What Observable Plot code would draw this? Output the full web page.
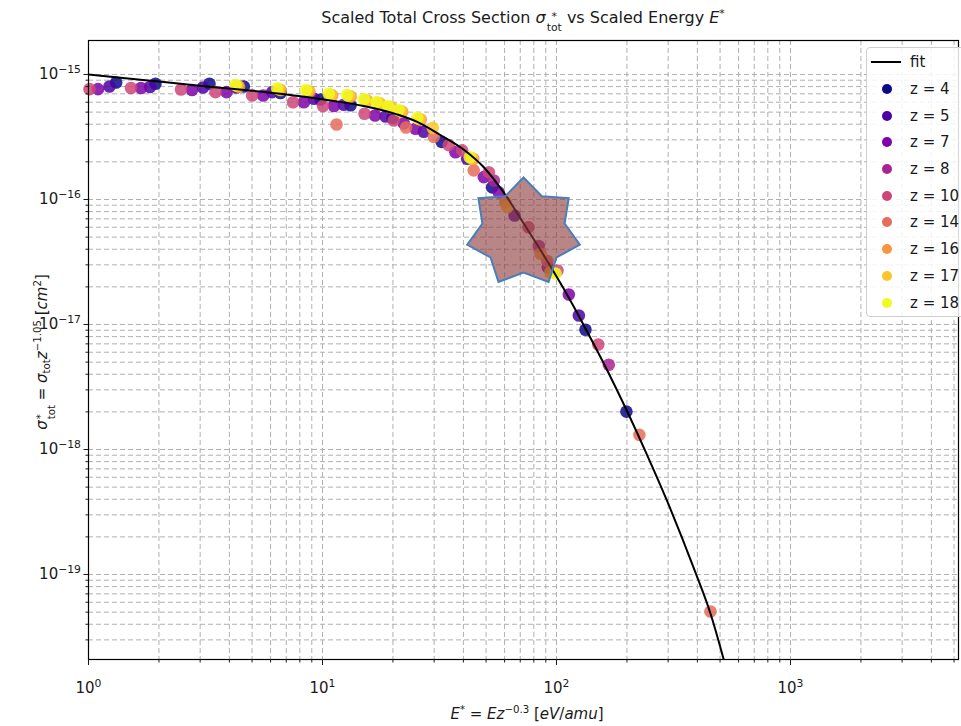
<!DOCTYPE html>
<html>
<head>
<meta charset="utf-8">
<script src="https://cdn.jsdelivr.net/npm/d3@7"></script>
<script src="https://cdn.jsdelivr.net/npm/@observablehq/plot@0.6"></script>
<style>
  html, body { margin: 0; padding: 0; background: #fff; }
  body { font-family: "DejaVu Sans", sans-serif; color: #1a1a1a; }
  #wrap { position: relative; width: 961px; height: 726px; overflow: hidden; background: #fff; }
  #title { position: absolute; top: 0; left: 88px; width: 870px; height: 36px; line-height: 36px; text-align: center; font-size: 16px; white-space: nowrap; }
  #chart { position: absolute; top: 34px; left: 0; }
  .ss { display: inline-flex; flex-direction: column; font-size: 0.68em; line-height: 1.1; vertical-align: 0.32em; margin-left: 1px; }
  sup { font-size: 0.68em; vertical-align: 0.55em; line-height: 0; }
  sub { font-size: 0.68em; vertical-align: -0.3em; line-height: 0; }
  #ylabel { position: absolute; left: 44px; top: 352px; transform: translate(-50%, -50%) rotate(-90deg); white-space: nowrap; font-size: 15px; line-height: 22px; }
  #xlabel { position: absolute; left: 527px; top: 714px; transform: translate(-50%, -50%); white-space: nowrap; font-size: 15px; }
  #legend { position: absolute; left: 866px; top: 47px; width: 100px; height: 270px; box-sizing: border-box; border: 1px solid #cfcfcf; border-radius: 4px; background: rgba(255,255,255,0.85); padding-top: 1px; }
  .row { position: relative; height: 26.7px; font-size: 15px; }
  .row .txt { position: absolute; left: 43px; top: 50%; transform: translateY(-50%); white-space: nowrap; }
  .row .mk { position: absolute; left: 15px; top: 50%; width: 10px; height: 10px; margin-top: -5px; border-radius: 50%; }
  .row .ln { position: absolute; left: 4px; top: 50%; width: 30px; height: 2px; margin-top: -1px; background: #000; }
</style>
</head>
<body>
<div id="wrap">
  <div id="title">Scaled Total Cross Section <i>σ</i><span class="ss"><span>*</span><span>tot</span></span> vs Scaled Energy <i>E</i><sup>*</sup></div>
  <div id="chart"></div>
  <div id="ylabel"><i>σ</i><span class="ss"><span>*</span><span>tot</span></span> = <i>σ</i><sub>tot</sub><i>z</i><sup>−1.05</sup>&nbsp;[<i>cm</i><sup>2</sup>]</div>
  <div id="xlabel"><i>E</i><sup>*</sup> = <i>Ez</i><sup>−0.3</sup>&nbsp;[<i>eV</i>/<i>amu</i>]</div>
  <div id="legend"></div>
</div>
<script>
// ---------- data ----------
const zLabels = ["z = 4", "z = 5", "z = 7", "z = 8", "z = 10", "z = 14", "z = 16", "z = 17", "z = 18"];

const z4E = [1.313, 1.933, 3.289, 4.61, 6.61, 9.81, 13.18, 19.9, 32.3, 53.1, 133, 199];
const z4S = [8.63e-16, 8.42e-16, 8.42e-16, 8.02e-16, 7.11e-16, 6.31e-16, 5.68e-16, 4.49e-16, 2.89e-16, 1.25e-16, 9.07e-18, 2.01e-18];

const z5E = [1.229, 1.832, 3.085, 4.29, 6.095, 9.20, 12.33, 18.6, 27.1, 41.5, 66.2, 124.6];
const z5S = [8.02e-16, 7.94e-16, 7.87e-16, 7.87e-16, 7.22e-16, 6.39e-16, 5.72e-16, 4.61e-16, 3.48e-16, 2.12e-16, 7.45e-17, 1.18e-17];

const z7E = [1.098, 1.677, 2.769, 3.889, 5.58, 8.33, 11.19, 16.77, 22.26, 24.97, 37.0, 48.9, 56.7, 91.8, 112.9];
const z7S = [7.63e-16, 7.80e-16, 7.52e-16, 7.22e-16, 6.79e-16, 6.0e-16, 5.6e-16, 4.70e-16, 4.06e-16, 3.68e-16, 2.39e-16, 1.51e-16, 1.14e-16, 2.87e-17, 1.74e-17];

const z8E = [54.0, 84.0, 167.3];
const z8S = [1.42e-16, 4.25e-17, 4.76e-18];

const z10E = [1.01, 1.519, 2.485, 3.489, 5.006, 7.48, 10.05, 15.12, 20.17, 34.65, 39.5, 51.4, 75.9, 101, 150.8];
const z10S = [7.63e-16, 7.80e-16, 7.59e-16, 7.22e-16, 6.79e-16, 6.0e-16, 5.6e-16, 4.85e-16, 4.29e-16, 2.72e-16, 2.47e-16, 1.65e-16, 6.0e-17, 2.70e-17, 6.92e-18];

const z14E = [11.48, 22.75, 29.9, 44.3, 91.3, 226, 455];
const z14S = [3.98e-16, 3.77e-16, 3.17e-16, 1.71e-16, 3.22e-17, 1.31e-18, 5.06e-20];

const z16E = [4.40, 6.63, 8.80, 11.0, 13.2, 15.5, 17.6, 19.7, 21.9, 26.3, 44.1, 60.5, 85.4];
const z16S = [7.99e-16, 7.50e-16, 7.29e-16, 6.80e-16, 6.65e-16, 6.16e-16, 5.85e-16, 5.43e-16, 5.04e-16, 4.36e-16, 2.11e-16, 9.51e-17, 3.68e-17];

const z17E = [4.33, 6.53, 8.67, 10.85, 13.0, 15.3, 17.4, 19.4, 21.6, 25.9, 29.6, 43.5, 61.6, 94.3];
const z17S = [8.08e-16, 7.58e-16, 7.37e-16, 6.87e-16, 6.72e-16, 6.22e-16, 5.91e-16, 5.49e-16, 5.10e-16, 4.40e-16, 3.75e-16, 2.14e-16, 8.68e-17, 2.62e-17];

const z18E = [4.248, 6.405, 8.50, 10.64, 12.74, 15.02, 17.02, 19.05, 21.13, 25.40, 42.6, 99.0];
const z18S = [8.24e-16, 7.73e-16, 7.52e-16, 7.01e-16, 6.86e-16, 6.35e-16, 6.03e-16, 5.60e-16, 5.20e-16, 4.49e-16, 2.18e-16, 2.56e-17];

const fitE = [1, 1.84, 2.91, 6.61, 10.8, 15, 20.8, 25.4, 31.9, 40.2, 48.9, 55.8, 61.5, 72.5, 88.3, 107.4, 133, 164.7, 199, 240, 300, 385, 455, 519, 560];
const fitS = [1.0e-15, 8.91e-16, 8.17e-16, 7.01e-16, 6.19e-16, 5.6e-16, 4.8e-16, 4.18e-16, 3.28e-16, 2.5e-16, 1.81e-16, 1.34e-16, 1.04e-16, 6.4e-17, 3.57e-17, 1.93e-17, 9.3e-18, 4.31e-18, 2.08e-18, 9.66e-19, 3.70e-19, 1.14e-19, 4.88e-20, 2.07e-20, 1.2e-20];

// star annotation placed in data coordinates
const starE = [72.3];
const starS = [5.45e-17];

// axis ticks
const xMajor = [1, 10, 100, 1000];
const xTickExp = ["0", "1", "2", "3"];
const yMajor = [1e-19, 1e-18, 1e-17, 1e-16, 1e-15];
const yTickExp = ["−19", "−18", "−17", "−16", "−15"];

// ---------- build tables ----------
const seriesE = [z4E, z5E, z7E, z8E, z10E, z14E, z16E, z17E, z18E];
const seriesS = [z4S, z5S, z7S, z8S, z10S, z14S, z16S, z17S, z18S];
const points = zLabels.flatMap((z, k) => seriesE[k].map((e, i) => ({E: e, S: seriesS[k][i], z})));
const fit = fitE.map((e, i) => ({E: e, S: fitS[i]}));
const star = starE.map((e, i) => ({E: e, S: starS[i]}));

const colors = d3.quantize(d3.interpolatePlasma, zLabels.length);

const xMinor = [];
for (let k = 0; k <= 3; k++) for (let m = 2; m <= 9; m++) xMinor.push(m * Math.pow(10, k));
const yMinor = [];
for (let k = -20; k <= -15; k++) for (let m = 2; m <= 9; m++) yMinor.push(m * Math.pow(10, k));

const xDomain = [1, 5224];
const yDomain = [2.09e-20, 1.87e-15];
const xMinorIn = xMinor.filter(v => v > xDomain[0] && v < xDomain[1]);
const yMinorIn = yMinor.filter(v => v > yDomain[0] && v < yDomain[1]);

// 7-pointed star symbol
const star7 = {
  draw(context, size) {
    const R = Math.sqrt(size / Math.PI);
    const r = R * 0.73;
    for (let k = 0; k < 14; k++) {
      const a = -Math.PI / 2 + k * Math.PI / 7;
      const rad = k % 2 === 0 ? R : r;
      const px = rad * Math.cos(a) * 1.05, py = rad * Math.sin(a);
      if (k === 0) context.moveTo(px, py); else context.lineTo(px, py);
    }
    context.closePath();
  }
};

const gridStyle = {stroke: "#b0b0b0", strokeOpacity: 1, strokeWidth: 1, strokeDasharray: "5,3"};

const chart = Plot.plot({
  width: 961,
  height: 692,
  marginLeft: 88,
  marginRight: 3,
  marginTop: 6,
  marginBottom: 67,
  style: {fontFamily: "DejaVu Sans, sans-serif", fontSize: "15px", color: "#1a1a1a", background: "white", overflow: "visible"},
  x: {type: "log", domain: xDomain},
  y: {type: "log", domain: yDomain},
  color: {domain: zLabels, range: colors},
  marks: [
    Plot.gridX(xMinorIn, gridStyle),
    Plot.gridX(xMajor, gridStyle),
    Plot.gridY(yMinorIn, gridStyle),
    Plot.gridY(yMajor, gridStyle),
    Plot.dot(points, {x: "E", y: "S", fill: "z", r: 6.3, fillOpacity: 0.85, stroke: "none"}),
    Plot.line(fit, {x: "E", y: "S", stroke: "black", strokeWidth: 2, curve: "monotone-x", clip: true}),
    Plot.frame({stroke: "black", strokeWidth: 1.2}),
    Plot.axisX(xMinorIn, {anchor: "bottom", tickSize: 3.5, tickFormat: () => "", label: null}),
    Plot.axisX(xMajor, {anchor: "bottom", tickSize: 6, tickPadding: 17, label: null,
      tickFormat: d => "10^" + xTickExp[Math.round(Math.log10(d))]}),
    Plot.axisY(yMinorIn, {anchor: "left", tickSize: 2.5, tickFormat: () => "", label: null}),
    Plot.axisY(yMajor, {anchor: "left", tickSize: 4.5, tickPadding: 3, label: null,
      tickFormat: d => "10^" + yTickExp[Math.round(Math.log10(d)) + 19]}),
    Plot.dot(star, {x: "E", y: "S", symbol: star7, r: 55, fill: "#8c3b3b", fillOpacity: 0.62,
      stroke: "#4a7ebb", strokeWidth: 2, ariaLabel: "star"})
  ]
});

// superscript tick labels
d3.select(chart).selectAll("text").each(function () {
  const s = this.textContent;
  const m = s.match(/^10\^(.+)$/);
  if (!m) return;
  const el = d3.select(this);
  el.text(null);
  el.append("tspan").text("10");
  el.append("tspan").attr("dy", "-0.55em").attr("font-size", "0.72em").text(m[1]);
});
d3.select(chart).selectAll('g[aria-label="star"]').style("filter", "drop-shadow(2px 3px 3px rgba(0,0,0,0.35))");

document.getElementById("chart").appendChild(chart);

// legend
const legend = document.getElementById("legend");
const fitRow = document.createElement("div");
fitRow.className = "row";
fitRow.innerHTML = '<span class="ln"></span><span class="txt">fit</span>';
legend.appendChild(fitRow);
zLabels.forEach((z, i) => {
  const row = document.createElement("div");
  row.className = "row";
  row.innerHTML = '<span class="mk" style="background:' + colors[i] + '"></span><span class="txt">' + z + '</span>';
  legend.appendChild(row);
});
</script>
</body>
</html>
